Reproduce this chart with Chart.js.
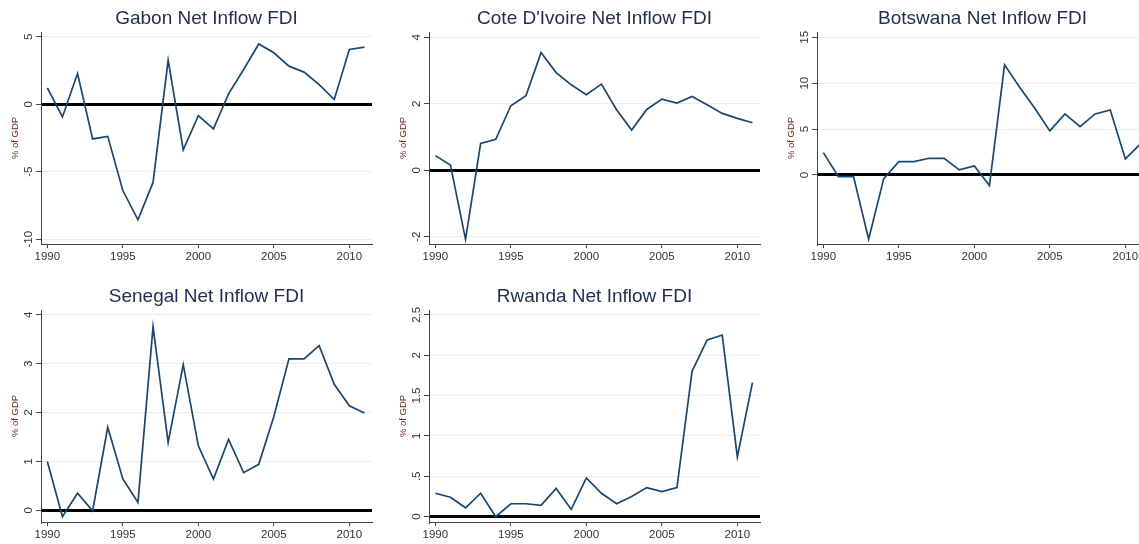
<!DOCTYPE html>
<html>
<head>
<meta charset="utf-8">
<script src="https://cdn.jsdelivr.net/npm/chart.js@4/dist/chart.umd.min.js"></script>
<style>
    body { margin: 0; background: #fff; overflow: hidden; width: 1139px; height: 544px; position: relative; }
    canvas { position: absolute; }
</style>
</head>
<body>
<canvas id="gabonChart" width="380" height="272" style="left:0px;top:0px"></canvas>
<canvas id="coteChart" width="380" height="272" style="left:388px;top:0px"></canvas>
<canvas id="botswanaChart" width="380" height="272" style="left:776px;top:0px"></canvas>
<canvas id="senegalChart" width="380" height="272" style="left:0px;top:278px"></canvas>
<canvas id="rwandaChart" width="380" height="272" style="left:388px;top:278px"></canvas>
<script>
// FDI net inflows, % of GDP
const years = [1990, 1991, 1992, 1993, 1994, 1995, 1996, 1997, 1998, 1999, 2000,
    2001, 2002, 2003, 2004, 2005, 2006, 2007, 2008, 2009, 2010, 2011];

const gabon = [1.21, -0.94, 2.28, -2.57, -2.38, -6.39, -8.56, -5.79, 3.27, -3.37, -0.84,
    -1.83, 0.77, 2.57, 4.46, 3.81, 2.82, 2.38, 1.46, 0.35, 4.06, 4.23];
const coteDIvoire = [0.44, 0.16, -2.08, 0.81, 0.93, 1.94, 2.24, 3.54, 2.94, 2.57, 2.27,
    2.59, 1.82, 1.21, 1.83, 2.14, 2.02, 2.22, 1.97, 1.71, 1.56, 1.43];
const botswana = [2.44, -0.18, -0.18, -7.0, -0.4, 1.45, 1.45, 1.82, 1.82, 0.55, 0.98,
    -1.16, 12.0, 9.56, 7.27, 4.8, 6.65, 5.27, 6.65, 7.09, 1.75, 3.4];
const senegal = [1.0, -0.13, 0.35, -0.01, 1.7, 0.64, 0.16, 3.76, 1.39, 2.98, 1.32,
    0.64, 1.45, 0.77, 0.94, 1.92, 3.1, 3.1, 3.37, 2.58, 2.14, 1.99];
const rwanda = [0.29, 0.24, 0.11, 0.29, 0.0, 0.16, 0.16, 0.14, 0.35, 0.09, 0.48,
    0.29, 0.16, 0.25, 0.36, 0.31, 0.36, 1.8, 2.19, 2.25, 0.74, 1.66];

const xTicks = [1990, 1995, 2000, 2005, 2010];
const xTickLabels = ['1990', '1995', '2000', '2005', '2010'];

const gabonTicks = [-10, -5, 0, 5];
const gabonTickLabels = ['-10', '-5', '0', '5'];
const coteTicks = [-2, 0, 2, 4];
const coteTickLabels = ['-2', '0', '2', '4'];
const botswanaTicks = [0, 5, 10, 15];
const botswanaTickLabels = ['0', '5', '10', '15'];
const senegalTicks = [0, 1, 2, 3, 4];
const senegalTickLabels = ['0', '1', '2', '3', '4'];
const rwandaTicks = [0, 0.5, 1, 1.5, 2, 2.5];
const rwandaTickLabels = ['0', '.5', '1', '1.5', '2', '2.5'];

const FONT = '"Liberation Sans", Arial, Helvetica, sans-serif';

// title above the plot region and rotated y tick labels, stata style
const stataText = {
    id: 'stataText',
    afterDraw(chart, args, opts) {
        const { ctx, chartArea, scales } = chart;
        ctx.save();
        ctx.fillStyle = '#1f2d4f';
        ctx.font = '19px ' + FONT;
        ctx.textAlign = 'center';
        ctx.textBaseline = 'middle';
        ctx.fillText(opts.title, (chartArea.left + chartArea.right) / 2, chartArea.top - 13);

        ctx.fillStyle = '#333';
        ctx.font = '11.5px ' + FONT;
        opts.ticks.forEach((v, i) => {
            const y = scales.y.getPixelForValue(v);
            ctx.save();
            ctx.translate(chartArea.left - 12, y);
            ctx.rotate(-Math.PI / 2);
            ctx.fillText(opts.tickLabels[i], 0, 0);
            ctx.restore();
        });
        ctx.restore();
    }
};

function makePanel(id, title, values, yMin, yMax, yTicks, yTickLabels) {
    const ctx = document.getElementById(id).getContext('2d');
    return new Chart(ctx, {
        type: 'line',
        data: {
            datasets: [{
                data: years.map((yr, i) => ({ x: yr, y: values[i] })),
                borderColor: '#1a476f',
                borderWidth: 1.7,
                pointRadius: 0,
                tension: 0,
                fill: false
            }]
        },
        options: {
            responsive: false,
            animation: false,
            events: [],
            layout: { padding: { top: 32, right: 8, left: 0, bottom: 0 } },
            plugins: {
                legend: { display: false },
                tooltip: { enabled: false },
                stataText: { title: title, ticks: yTicks, tickLabels: yTickLabels }
            },
            scales: {
                x: {
                    type: 'linear',
                    min: 1989.58,
                    max: 2011.5,
                    afterBuildTicks: s => { s.ticks = xTicks.map(v => ({ value: v })); },
                    afterFit: s => { s.height = 28; },
                    ticks: {
                        callback: v => xTickLabels[xTicks.indexOf(v)],
                        color: '#333',
                        font: { family: FONT, size: 11.5 },
                        padding: 2,
                        maxRotation: 0,
                        autoSkip: false
                    },
                    grid: {
                        drawOnChartArea: false,
                        tickLength: 4,
                        tickColor: '#444'
                    },
                    border: { color: '#444', width: 1 }
                },
                y: {
                    type: 'linear',
                    min: yMin,
                    max: yMax,
                    afterBuildTicks: s => { s.ticks = yTicks.map(v => ({ value: v })); },
                    afterFit: s => { s.width = 41; },
                    ticks: { display: false },
                    title: {
                        display: true,
                        text: '% of GDP',
                        color: '#6b2a1e',
                        font: { family: FONT, size: 9.5 },
                        padding: { top: 10, bottom: 0 }
                    },
                    grid: {
                        color: c => (c.tick && c.tick.value === 0) ? '#000' : '#e6eef0',
                        lineWidth: c => (c.tick && c.tick.value === 0) ? 3 : 1,
                        tickColor: '#444',
                        tickWidth: 1,
                        tickLength: 5
                    },
                    border: { color: '#444', width: 1 }
                }
            }
        },
        plugins: [stataText]
    });
}

makePanel('gabonChart', 'Gabon Net Inflow FDI', gabon, -10.35, 5.35, gabonTicks, gabonTickLabels);
makePanel('coteChart', "Cote D'Ivoire Net Inflow FDI", coteDIvoire, -2.22, 4.16, coteTicks, coteTickLabels);
makePanel('botswanaChart', 'Botswana Net Inflow FDI', botswana, -7.52, 15.58, botswanaTicks, botswanaTickLabels);
makePanel('senegalChart', 'Senegal Net Inflow FDI', senegal, -0.24, 4.1, senegalTicks, senegalTickLabels);
makePanel('rwandaChart', 'Rwanda Net Inflow FDI', rwanda, -0.066, 2.56, rwandaTicks, rwandaTickLabels);
</script>
</body>
</html>
